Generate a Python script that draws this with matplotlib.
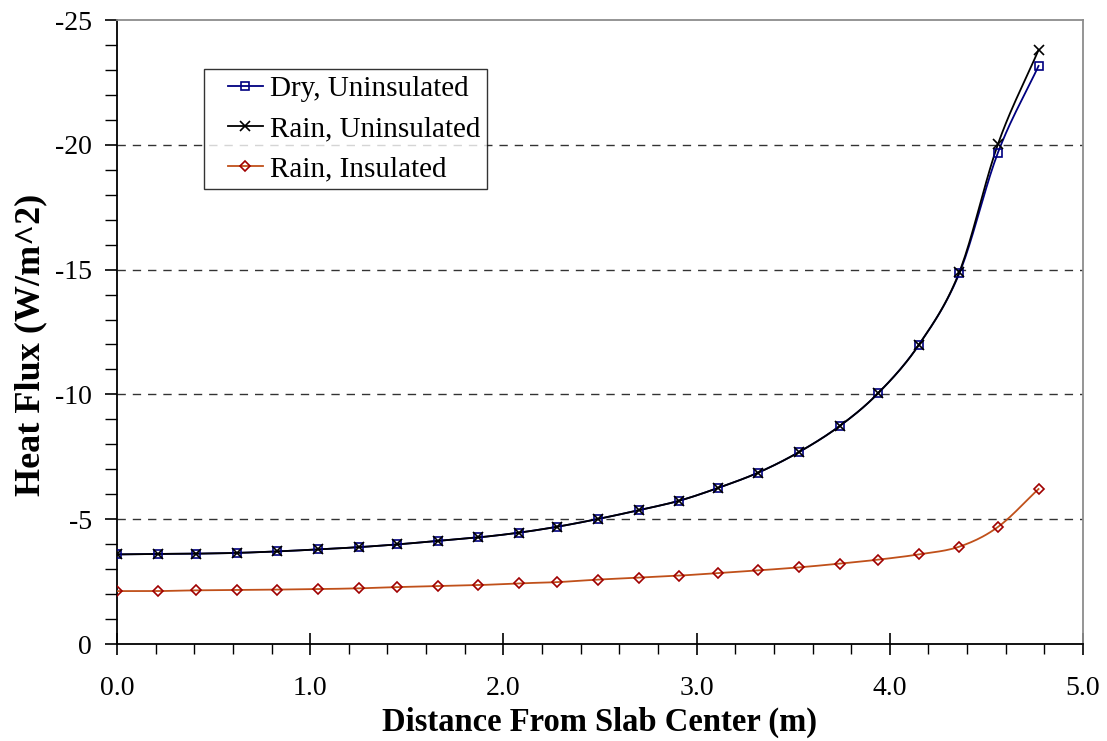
import numpy as np
import matplotlib
matplotlib.use("Agg")
import matplotlib.pyplot as plt
from matplotlib.ticker import MultipleLocator, FormatStrFormatter
from matplotlib.legend_handler import HandlerLine2D

# Distance from slab center (m)
distance = [0.00, 0.21, 0.41, 0.62, 0.83, 1.04, 1.25, 1.45, 1.66, 1.87, 2.08, 2.28,
            2.49, 2.70, 2.91, 3.11, 3.32, 3.53, 3.74, 3.94, 4.15, 4.36, 4.56, 4.77]

# Heat flux (W/m^2)
dry_uninsulated = [-3.59, -3.61, -3.62, -3.65, -3.71, -3.79, -3.88, -3.99, -4.13, -4.27,
                   -4.46, -4.70, -5.01, -5.36, -5.74, -6.25, -6.87, -7.69, -8.73, -10.05,
                   -11.98, -14.85, -19.69, -23.16]
rain_uninsulated = [-3.59, -3.61, -3.62, -3.65, -3.71, -3.79, -3.88, -3.99, -4.13, -4.27,
                    -4.46, -4.70, -5.01, -5.36, -5.74, -6.25, -6.87, -7.69, -8.73, -10.05,
                    -11.98, -14.90, -20.03, -23.80]
rain_insulated = [-2.12, -2.12, -2.15, -2.16, -2.18, -2.20, -2.23, -2.28, -2.32, -2.36,
                  -2.43, -2.48, -2.58, -2.66, -2.74, -2.84, -2.95, -3.07, -3.22, -3.38,
                  -3.59, -3.90, -4.69, -6.21]

series_labels = ["Dry, Uninsulated", "Rain, Uninsulated", "Rain, Insulated"]


def smooth(x, y, n=20):
    """Catmull-Rom curve through the points (spreadsheet-style smoothed line)."""
    x = np.asarray(x, float)
    y = np.asarray(y, float)
    px = np.concatenate([[2 * x[0] - x[1]], x, [2 * x[-1] - x[-2]]])
    py = np.concatenate([[2 * y[0] - y[1]], y, [2 * y[-1] - y[-2]]])
    t = np.linspace(0, 1, n, endpoint=False)
    xs, ys = [], []
    for i in range(1, len(px) - 2):
        for arr, out in ((px, xs), (py, ys)):
            p0, p1, p2, p3 = arr[i - 1], arr[i], arr[i + 1], arr[i + 2]
            out.extend(0.5 * ((2 * p1) + (-p0 + p2) * t
                              + (2 * p0 - 5 * p1 + 4 * p2 - p3) * t ** 2
                              + (-p0 + 3 * p1 - 3 * p2 + p3) * t ** 3))
    xs.append(x[-1])
    ys.append(y[-1])
    return np.array(xs), np.array(ys)


plt.rcParams["font.family"] = ["Liberation Serif", "DejaVu Serif"]
plt.rcParams["axes.unicode_minus"] = False

fig = plt.figure(figsize=(11.07, 7.41), dpi=100)
ax = fig.add_axes([0.1057, 0.1309, 0.8726, 0.8421])

styles = [
    dict(line="#000080", marker="s", mfc="none", mec="#000080", ms=5.5, mew=1.2),
    dict(line="#000000", marker="x", mfc="none", mec="#000000", ms=7, mew=1.2),
    dict(line="#C0501A", marker="D", mfc="none", mec="#A00000", ms=5.5, mew=1.2),
]

handles = []
for yv, st, lab in zip([dry_uninsulated, rain_uninsulated, rain_insulated], styles, series_labels):
    sx, sy = smooth(distance, yv)
    ax.plot(sx, sy, color=st["line"], lw=1.3, zorder=3)
    ax.plot(distance, yv, linestyle="none", marker=st["marker"], mfc=st["mfc"],
            mec=st["mec"], ms=st["ms"], mew=st["mew"], zorder=4)
    h, = ax.plot([], [], color=st["line"], lw=1.3, marker=st["marker"], mfc=st["mfc"],
                 mec=st["mec"], ms=st["ms"], mew=st["mew"], label=lab)
    handles.append(h)

ax.set_xlim(0, 5)
ax.set_ylim(0, -25)

ax.xaxis.set_major_locator(MultipleLocator(1.0))
ax.xaxis.set_minor_locator(MultipleLocator(0.2))
ax.xaxis.set_major_formatter(FormatStrFormatter("%.1f"))
ax.yaxis.set_major_locator(MultipleLocator(5))
ax.yaxis.set_minor_locator(MultipleLocator(1))

ax.tick_params(axis="x", which="major", direction="inout", length=16, width=1.2,
               labelsize=20, pad=15, colors="black")
ax.tick_params(axis="x", which="minor", direction="out", length=7, width=1.0)
ax.tick_params(axis="y", which="major", direction="out", length=9, width=1.2,
               labelsize=20, pad=9)
ax.tick_params(axis="y", which="minor", direction="out", length=9, width=1.0)

for v in (-5, -10, -15, -20):
    ax.axhline(v, color="#333333", lw=1.0, ls=(0, (6, 5)), zorder=1)

ax.spines["left"].set_color("black")
ax.spines["bottom"].set_color("black")
ax.spines["left"].set_linewidth(1.3)
ax.spines["bottom"].set_linewidth(1.3)
for s in ("top", "right"):
    ax.spines[s].set_color("#8c8c8c")
    ax.spines[s].set_linewidth(1.3)

ax.set_xlabel("Distance From Slab Center (m)", fontsize=23.5, fontweight="bold")
ax.set_ylabel("Heat Flux (W/m^2)", fontsize=26, fontweight="bold")
ax.xaxis.set_label_coords(0.5, -0.1)
ax.yaxis.set_label_coords(-0.072, 0.479)

leg = ax.legend(handles=handles, loc="upper left", bbox_to_anchor=(0.090, 0.921),
                borderaxespad=0, fontsize=21, frameon=True, fancybox=False,
                handlelength=1.8, handletextpad=0.24, labelspacing=0.47,
                borderpad=0.22,
                handler_map={h: HandlerLine2D(xpad=0.6) for h in handles})
leg.get_frame().set_edgecolor("black")
leg.get_frame().set_linewidth(1.0)

fig.savefig("out.png", dpi=100)
